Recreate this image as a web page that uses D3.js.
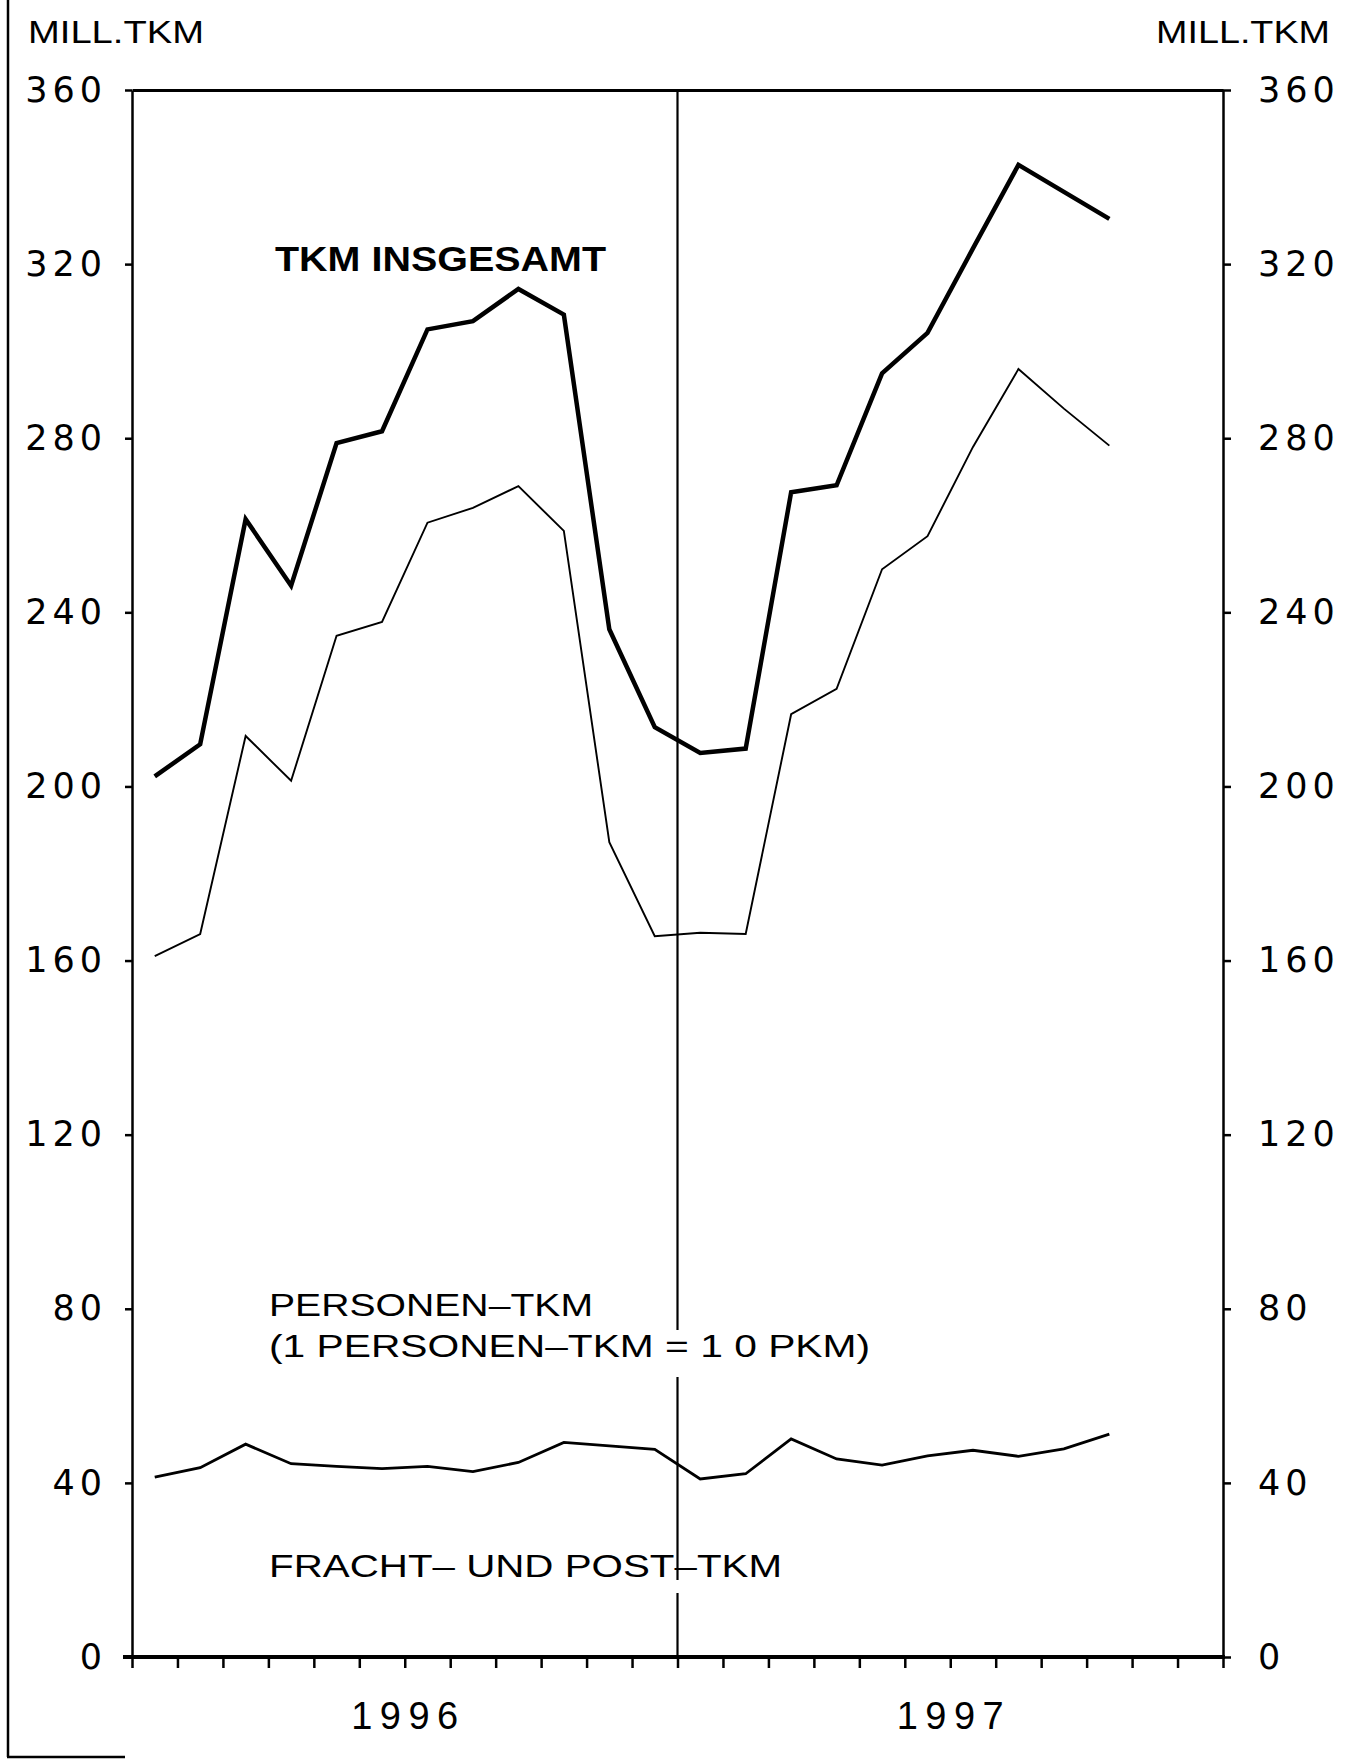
<!DOCTYPE html>
<html>
<head>
<meta charset="utf-8">
<script src="https://cdn.jsdelivr.net/npm/d3@7/dist/d3.min.js"></script>
<style>
  body { margin: 0; background: #fff; }
  svg { display: block; }
  text { font-family: 'Liberation Sans', Arial, sans-serif; fill: #000; }
</style>
</head>
<body>
<div id="chart"></div>
<script>
// monthly values, Jan 1996 .. Oct 1997 (plotted mid-month)
const total = [202.3, 209.7, 261.4, 246.1, 278.9, 281.6, 305.0, 306.9, 314.3, 308.4, 236.1,
  213.6, 207.7, 208.7, 267.6, 269.2, 294.9, 304.2, 323.6, 342.8, 336.6, 330.4]
const personen = [161.0, 166.1, 211.6, 201.3, 234.6, 237.8, 260.6, 264.0, 269.0, 258.7, 187.2,
  165.6, 166.4, 166.1, 216.6, 222.4, 249.9, 257.5, 278.0, 295.9, 286.8, 278.3]
const fracht = [41.3, 43.5, 48.9, 44.4, 43.8, 43.3, 43.8, 42.6, 44.7, 49.3, 48.5,
  47.7, 40.9, 42.1, 50.1, 45.5, 44.1, 46.2, 47.5, 46.1, 47.8, 51.2]
const yTicks = [0, 40, 80, 120, 160, 200, 240, 280, 320, 360]
const years = ['1996', '1997']
const unitLabel = 'MILL.TKM'

const W = 1347
const H = 1760
const pLeft = 132
const pRight = 1223
const pTop = 90
const pBottom = 1657

const svg = d3.select('#chart').append('svg').attr('width', W).attr('height', H)

const x = d3.scaleLinear().domain([0, 24]).range([pLeft, pRight])
const y = d3.scaleLinear().domain([0, 360]).range([pBottom, pTop])

// scan frame remnants
svg.append('line').attr('x1', 8).attr('x2', 8).attr('y1', 0).attr('y2', 1757)
    .attr('stroke', '#000').attr('stroke-width', 2.5)
svg.append('line').attr('x1', 7).attr('x2', 125).attr('y1', 1757).attr('y2', 1757)
    .attr('stroke', '#000').attr('stroke-width', 2.5)

function styleAxis (g, w) {
  g.select('.domain').attr('stroke', '#000').attr('stroke-width', w)
  g.selectAll('.tick line').attr('stroke', '#000').attr('stroke-width', 2.5)
  g.selectAll('.tick text')
      .style('font-family', "'DejaVu Sans', Verdana, sans-serif")
      .style('font-size', '35px')
      .style('letter-spacing', '5px')
      .attr('fill', '#000')
}

let gl = svg.append('g').attr('transform', `translate(${pLeft},0)`)
    .call(d3.axisLeft(y).tickValues(yTicks).tickSize(7).tickSizeOuter(0).tickPadding(18))
styleAxis(gl, 2.5)

let gr = svg.append('g').attr('transform', `translate(${pRight},0)`)
    .call(d3.axisRight(y).tickValues(yTicks).tickSize(8).tickSizeOuter(0).tickPadding(27))
styleAxis(gr, 2.5)

let gt = svg.append('g').attr('transform', `translate(0,${pTop})`)
    .call(d3.axisTop(x).tickValues([]).tickSizeOuter(0))
styleAxis(gt, 3)

let gb = svg.append('g').attr('transform', `translate(0,${pBottom})`)
    .call(d3.axisBottom(x).tickValues(d3.range(25)).tickSize(11).tickSizeOuter(0).tickFormat(''))
styleAxis(gb, 4)
gb.select('.domain').attr('d', `M${pLeft - 9},0H${pRight + 2}`)

// year divider (broken where the labels cross it)
const xd = x(12)
const segs = [[pTop, 1330], [1377, 1580], [1593, pBottom]]
svg.append('g').selectAll('line').data(segs).enter().append('line')
    .attr('x1', xd).attr('x2', xd)
    .attr('y1', (d) => d[0]).attr('y2', (d) => d[1])
    .attr('stroke', '#000').attr('stroke-width', 2.2)

// series
const line = d3.line().x((d, i) => x(i + 0.5)).y((d) => y(d))
const series = [
  { data: total, w: 4.5 },
  { data: personen, w: 1.9 },
  { data: fracht, w: 2.8 }
]
svg.append('g').selectAll('path').data(series).enter().append('path')
    .attr('d', (d) => line(d.data))
    .attr('fill', 'none')
    .attr('stroke', '#000')
    .attr('stroke-width', (d) => d.w)
    .attr('stroke-linejoin', 'miter')

// texts
function label (txt, x0, y0, size, len, weight) {
  return svg.append('text')
      .attr('x', x0).attr('y', y0)
      .attr('font-size', size)
      .attr('font-weight', weight || 'normal')
      .attr('textLength', len)
      .attr('lengthAdjust', 'spacingAndGlyphs')
      .text(txt)
}

label(unitLabel, 28, 43, 32, 176)
label(unitLabel, 1156, 43, 32, 174)
label('TKM INSGESAMT', 275, 271, 35, 331, 'bold')
label('PERSONEN\u2013TKM', 269, 1316, 32, 324)
label('(1 PERSONEN\u2013TKM = 1 0 PKM)', 269, 1357, 32, 601)
label('FRACHT\u2013 UND POST\u2013TKM', 269, 1577, 32, 513)

svg.append('g').selectAll('text').data(years).enter().append('text')
    .attr('x', (d, i) => x(6 + i * 12))
    .attr('y', 1729)
    .attr('text-anchor', 'middle')
    .attr('font-size', 38)
    .attr('textLength', 107)
    .attr('lengthAdjust', 'spacing')
    .text((d) => d)
</script>
</body>
</html>
